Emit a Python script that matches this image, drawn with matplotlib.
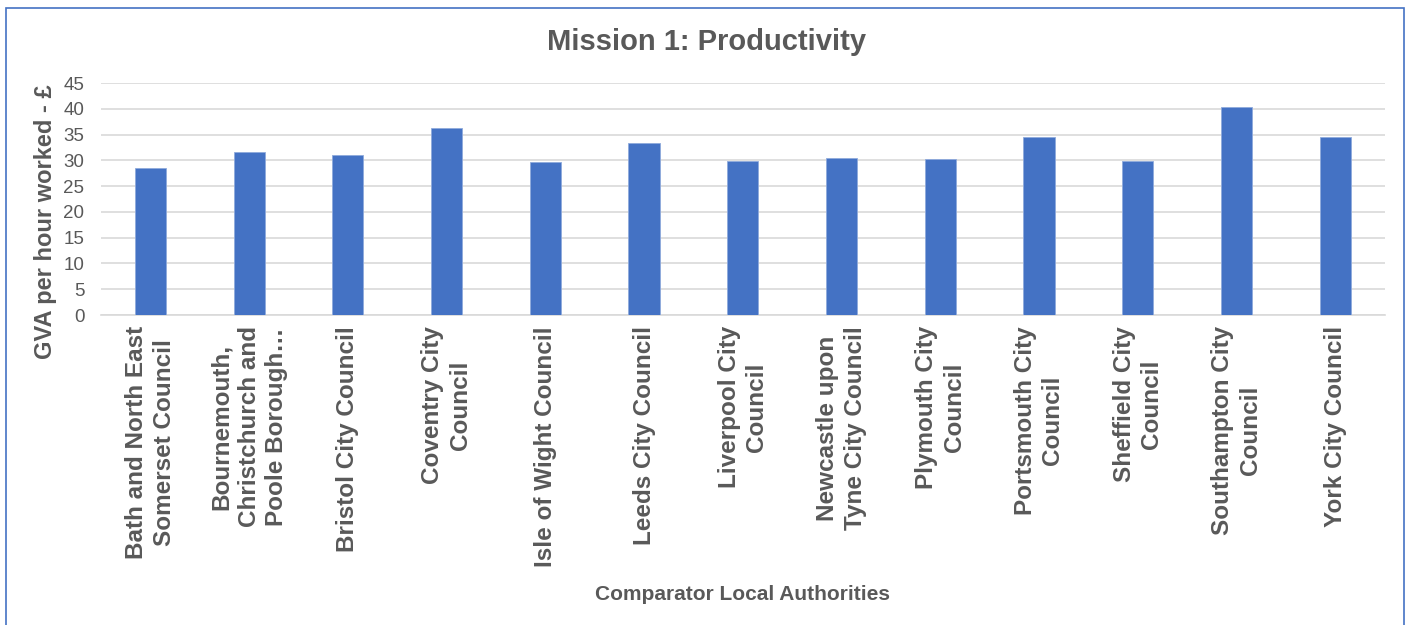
import numpy as np
import matplotlib.pyplot as plt
from matplotlib.patches import Rectangle

plt.rcParams['font.family'] = ['Liberation Sans', 'DejaVu Sans']

councils = ["Bath and North East\nSomerset Council",
            "Bournemouth,\nChristchurch and\nPoole Borough\u2026",
            "Bristol City Council",
            "Coventry City\nCouncil",
            "Isle of Wight Council",
            "Leeds City Council",
            "Liverpool City\nCouncil",
            "Newcastle upon\nTyne City Council",
            "Plymouth City\nCouncil",
            "Portsmouth City\nCouncil",
            "Sheffield City\nCouncil",
            "Southampton City\nCouncil",
            "York City Council"]
gva = [28.6, 31.6, 31.0, 36.3, 29.6, 33.4, 29.8, 30.4, 30.2, 34.5, 29.8, 40.3, 34.6]
yticks = [0, 5, 10, 15, 20, 25, 30, 35, 40, 45]

grey = '#595959'

fig = plt.figure(figsize=(14.1, 6.25), dpi=100)
ax = fig.add_axes([0.0716, 0.496, 0.9104, 0.371])

x = np.arange(len(councils))
ax.bar(x, gva, width=0.315, color='#4472C4', edgecolor='#8faadc', linewidth=0.6, zorder=3)

ax.set_xlim(-0.5, len(councils) - 0.5)
ax.set_ylim(0, 45)
ax.set_yticks(yticks)
ax.set_yticklabels([str(t) for t in yticks], fontsize=13.5, color=grey)
ax.set_xticks(x)
ax.set_xticklabels(councils, rotation=90, fontsize=17.5, fontweight='bold', color=grey,
                   ha='center', va='top', multialignment='center', linespacing=1.25)
ax.tick_params(axis='both', length=0)
ax.tick_params(axis='y', pad=12)
ax.tick_params(axis='x', pad=8)
ax.grid(axis='y', color='#d9d9d9', linewidth=1.2, zorder=0)
for s in ['top', 'right', 'left']:
    ax.spines[s].set_visible(False)
ax.spines['bottom'].set_color('#d9d9d9')
ax.spines['bottom'].set_linewidth(1.2)

fig.text(0.501, 0.933, 'Mission 1: Productivity', ha='center', va='center',
         fontsize=21, fontweight='bold', color=grey)
fig.text(0.032, 0.646, 'GVA per hour worked - \u00a3', rotation=90, ha='center', va='center',
         fontsize=17, fontweight='bold', color=grey)
fig.text(0.5266, 0.048, 'Comparator Local Authorities', ha='center', va='center',
         fontsize=15, fontweight='bold', color=grey)

fig.patches.append(Rectangle((0.004, -0.01), 0.992, 0.997, transform=fig.transFigure,
                             fill=False, edgecolor='#4472C4', linewidth=1.2))

fig.savefig('out.png', dpi=100)
